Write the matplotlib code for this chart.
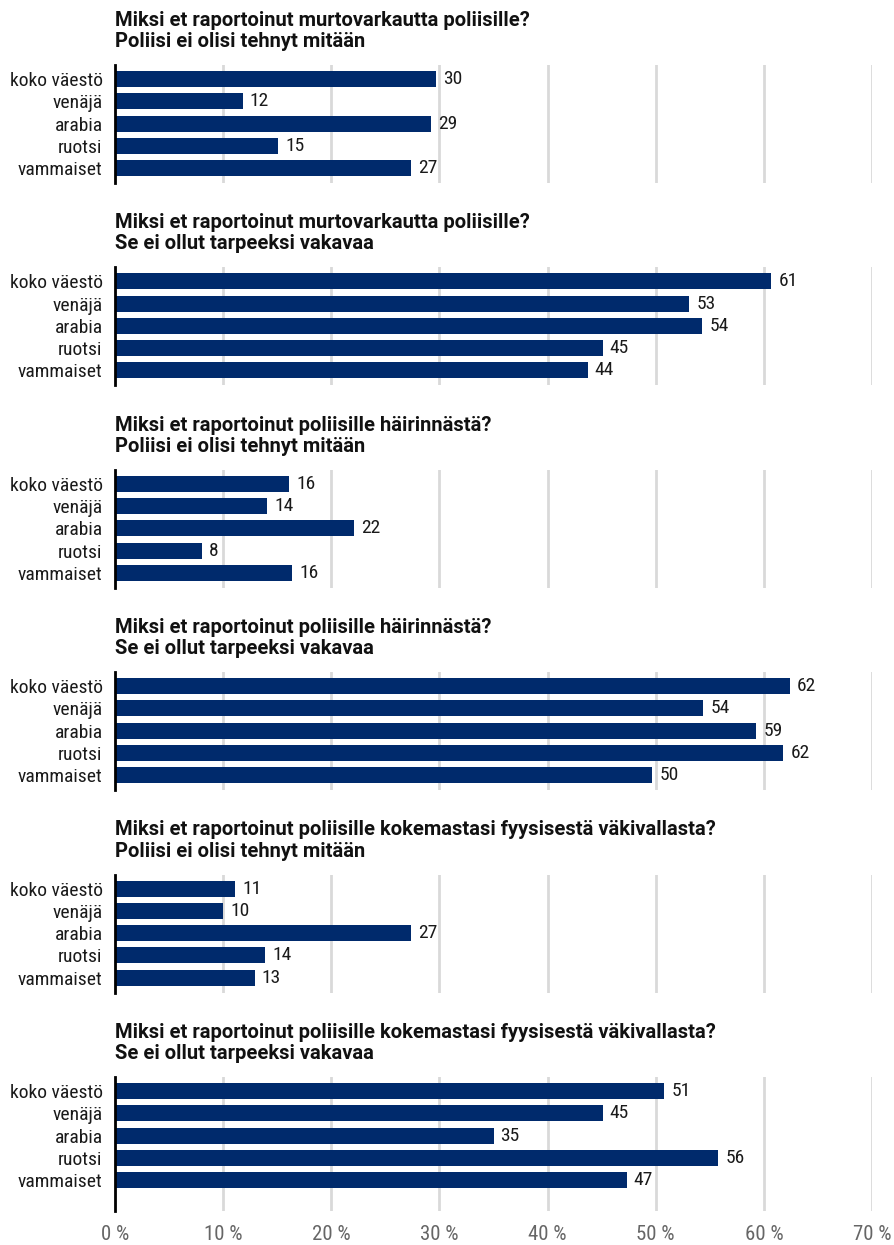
import matplotlib
matplotlib.use("Agg")
import matplotlib.pyplot as plt
from matplotlib import font_manager

# ---- data ----
GROUPS = ["koko väestö", "venäjä", "arabia", "ruotsi", "vammaiset"]

TITLES = [
    "Miksi et raportoinut murtovarkautta poliisille?\nPoliisi ei olisi tehnyt mitään",
    "Miksi et raportoinut murtovarkautta poliisille?\nSe ei ollut tarpeeksi vakavaa",
    "Miksi et raportoinut poliisille häirinnästä?\nPoliisi ei olisi tehnyt mitään",
    "Miksi et raportoinut poliisille häirinnästä?\nSe ei ollut tarpeeksi vakavaa",
    "Miksi et raportoinut poliisille kokemastasi fyysisestä väkivallasta?\nPoliisi ei olisi tehnyt mitään",
    "Miksi et raportoinut poliisille kokemastasi fyysisestä väkivallasta?\nSe ei ollut tarpeeksi vakavaa",
]

burglary_nothing = [29.7, 11.8, 29.2, 15.1, 27.4]
burglary_minor = [60.7, 53.1, 54.3, 45.1, 43.7]
harass_nothing = [16.1, 14.1, 22.1, 8.0, 16.4]
harass_minor = [62.4, 54.4, 59.3, 61.8, 49.7]
violence_nothing = [11.1, 10.0, 27.4, 13.9, 12.9]
violence_minor = [50.8, 45.1, 35.0, 55.8, 47.3]

PANELS = [burglary_nothing, burglary_minor, harass_nothing,
          harass_minor, violence_nothing, violence_minor]

XTICKS = [0, 10, 20, 30, 40, 50, 60, 70]
XTICK_LABELS = [f"{t} %" for t in XTICKS]

# ---- style ----
BAR_COLOR = "#002a6c"
GRID_COLOR = "#d9d9d9"

available = {f.name for f in font_manager.fontManager.ttflist}


def pick(cands):
    for c in cands:
        if c in available:
            return c
    return "DejaVu Sans"


body_font = pick(["Roboto Condensed", "Liberation Sans Narrow", "Open Sans Condensed", "Roboto"])
title_font = pick(["Roboto", "Liberation Sans", "DejaVu Sans"])
plt.rcParams["font.family"] = [body_font, "DejaVu Sans"]

W, H = 894, 1245
fig = plt.figure(figsize=(W / 100, H / 100), dpi=100)

left_px, right_px = 115, 872
top0, step = 65, 202.4
row_px = 22.25

for i, (title, vals) in enumerate(zip(TITLES, PANELS)):
    last = i == len(PANELS) - 1
    bottom_pad = 1.39 if last else 0.67
    top_pad = 0.63
    height_px = (4 + top_pad + bottom_pad) * row_px
    top_px = top0 + i * step
    ax = fig.add_axes([left_px / W, 1 - (top_px + height_px) / H,
                       (right_px - left_px) / W, height_px / H])
    y = list(range(len(GROUPS)))
    ax.barh(y, vals, height=0.72, color=BAR_COLOR, zorder=3)
    for yi, v in zip(y, vals):
        ax.text(v + 0.65, yi, f"{round(v)}", va="center", ha="left",
                fontsize=14, color="#1a1a1a")
    ax.set_xlim(0, 70)
    ax.set_ylim(4 + bottom_pad, -top_pad)
    ax.set_yticks(y)
    ax.set_yticklabels(GROUPS, fontsize=14, color="#1a1a1a")
    ax.set_xticks(XTICKS)
    if last:
        ax.set_xticklabels(XTICK_LABELS, fontsize=15, color="#666666")
    else:
        ax.set_xticklabels([])
    ax.tick_params(axis="both", length=0)
    ax.tick_params(axis="y", pad=9)
    ax.tick_params(axis="x", pad=10)
    ax.grid(axis="x", color=GRID_COLOR, linewidth=2, zorder=0)
    for s in ["top", "right", "bottom"]:
        ax.spines[s].set_visible(False)
    ax.spines["left"].set_linewidth(2)
    ax.spines["left"].set_color("black")
    ax.spines["left"].set_zorder(4)
    ax.text(0, 1.0 + 14 / height_px, title, transform=ax.transAxes,
            ha="left", va="bottom", fontsize=14.5, fontweight="bold",
            family=[title_font, "DejaVu Sans"], color="#111111",
            linespacing=1.15)

fig.savefig("out.png", dpi=100)
